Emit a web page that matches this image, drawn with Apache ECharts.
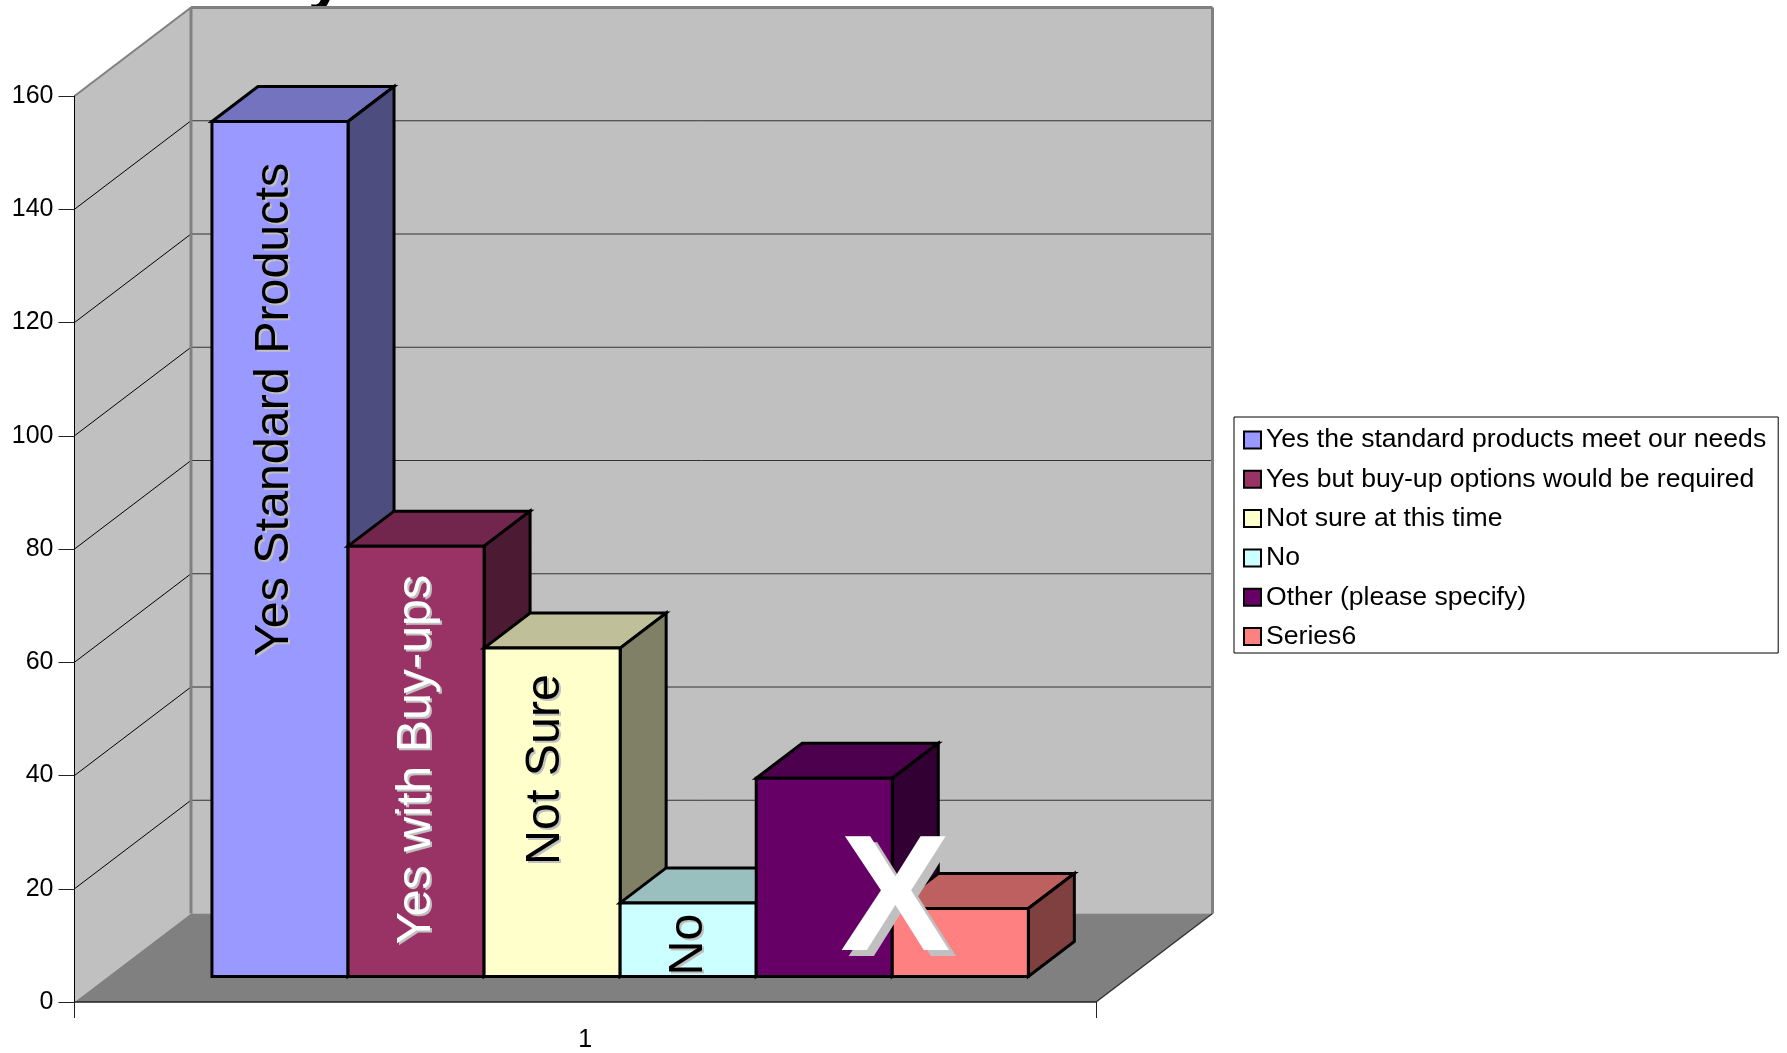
<!DOCTYPE html>
<html>
<head>
<meta charset="utf-8">
<style>html,body{margin:0;padding:0;background:#fff}#c{width:1787px;height:1053px}</style>
<script src="https://cdn.jsdelivr.net/npm/echarts@6/dist/echarts.min.js"></script>
</head>
<body>
<div id="c"></div>
<script>
const categories = ['1'];
const seriesNames = [
  'Yes the standard products meet our needs',
  'Yes but buy-up options would be required',
  'Not sure at this time',
  'No',
  'Other (please specify)',
  'Series6'
];
const seriesValues = [151, 76, 58, 13, 35, 12];
const valueTicks = [0, 20, 40, 60, 80, 100, 120, 140, 160];
const barLabels = ['Yes Standard Products', 'Yes with Buy-ups', 'Not Sure', 'No', 'X', ''];

const frontColors = ['#9999FF', '#993366', '#FFFFCC', '#CCFFFF', '#660066', '#FF8080'];
const topColors   = ['#7373BF', '#73264D', '#BFBF99', '#99BFBF', '#4D004D', '#BF6060'];
const sideColors  = ['#4D4D80', '#4D1A33', '#808066', '#668080', '#330033', '#804040'];
const labelColors = ['#000', '#fff', '#000', '#000', '#fff', '#000'];

// projection of the 3D box
const WALL_DX = 116.5, WALL_DY = 88.5;   // back wall vs front plane
const BASE_DX = 35, BASE_DY = 25.5;      // bars' front face vs front plane
const BAR_DX = 46, BAR_DY = 35;          // depth of each bar
const GAP_FRAC = 0.1003, BAR_FRAC = 0.1332;

// label placement relative to the bar: [offset from bar centre, height above base]
const labelPlace = [[-5, 567], [1, 217], [-6, 207], [0, 32], [71, 72], [0, 0]];

function poly(points, fill, stroke, lineWidth) {
  return { type: 'polygon', shape: { points },
    style: { fill, stroke: stroke || null, lineWidth: lineWidth || 0, lineJoin: 'miter', miterLimit: 4 } };
}
function line(x1, y1, x2, y2, stroke, lineWidth) {
  return { type: 'line', shape: { x1, y1, x2, y2 }, style: { stroke, lineWidth: lineWidth || 1, fill: null } };
}
function frame(api) {
  const c = api.coord([0, 0]);
  const band = api.size([1, 0])[0];
  return { left: c[0] - band / 2, right: c[0] + band / 2, y0: c[1], band };
}

function renderWalls(params, api) {
  const f = frame(api);
  const yTop = api.coord([0, valueTicks[valueTicks.length - 1]])[1];
  const L = f.left, R = f.right, B = f.y0;
  const bL = L + WALL_DX, bR = R + WALL_DX;
  const kids = [
    poly([[L, yTop], [bL, yTop - WALL_DY], [bL, B - WALL_DY], [L, B]], '#C0C0C0'),
    poly([[bL, yTop - WALL_DY], [bR, yTop - WALL_DY], [bR, B - WALL_DY], [bL, B - WALL_DY]], '#C0C0C0'),
    poly([[L, B], [bL, B - WALL_DY], [bR, B - WALL_DY], [R, B]], '#808080')
  ];
  valueTicks.forEach(function (v) {
    if (v === 0 || v === valueTicks[valueTicks.length - 1]) return;
    const y = api.coord([0, v])[1];
    kids.push(line(L, y, bL, y - WALL_DY, '#000', 1));
    kids.push(line(bL, y - WALL_DY, bR, y - WALL_DY, '#333', 1));
  });
  kids.push(line(L, yTop, bL, yTop - WALL_DY, '#808080', 2));
  kids.push(line(bL, yTop - WALL_DY, bR, yTop - WALL_DY, '#808080', 3));
  kids.push(line(bL, yTop - WALL_DY, bL, B - WALL_DY, '#808080', 3));
  kids.push(line(bR, yTop - WALL_DY, bR, B - WALL_DY, '#808080', 3));
  kids.push(line(R, B, bR, B - WALL_DY, '#333', 1.5));
  return { type: 'group', children: kids };
}

function makeBarRenderer(i) {
  return function (params, api) {
    const f = frame(api);
    const w = f.band * BAR_FRAC;
    const x0 = f.left + BASE_DX + f.band * GAP_FRAC + i * w;
    const x1 = x0 + w;
    const yb = f.y0 - BASE_DY;
    const yt = api.coord([0, api.value(1)])[1] - BASE_DY;
    return { type: 'group', children: [
      poly([[x0, yt], [x0 + BAR_DX, yt - BAR_DY], [x1 + BAR_DX, yt - BAR_DY], [x1, yt]], topColors[i], '#000', 3),
      poly([[x1, yt], [x1 + BAR_DX, yt - BAR_DY], [x1 + BAR_DX, yb - BAR_DY], [x1, yb]], sideColors[i], '#000', 3),
      poly([[x0, yt], [x1, yt], [x1, yb], [x0, yb]], frontColors[i], '#000', 3)
    ] };
  };
}

function renderLabel(params, api) {
  const i = params.dataIndex;
  const text = barLabels[i];
  if (!text) return null;
  const f = frame(api);
  const w = f.band * BAR_FRAC;
  const cx = f.left + BASE_DX + f.band * GAP_FRAC + (i + 0.5) * w + labelPlace[i][0];
  const cy = f.y0 - BASE_DY - labelPlace[i][1];
  const big = text === 'X';
  const font = (big ? 'bold 165px' : '48.4px') + ' "Liberation Sans"';
  const mk = function (x, y, fill) {
    return { type: 'text', x, y, rotation: big ? 0 : Math.PI / 2,
      style: { text, fill, align: 'center', verticalAlign: 'middle', font } };
  };
  return { type: 'group', children: [
    mk(cx + (big ? 7 : 2), cy + (big ? 6 : 2), '#C0C0C0'),
    mk(cx, cy, labelColors[i])
  ] };
}

const barSeries = seriesNames.map(function (name, i) {
  return {
    type: 'custom', name, z: 3, silent: true, clip: false,
    coordinateSystem: 'cartesian2d',
    encode: { x: 0, y: 1 },
    itemStyle: { color: frontColors[i], borderColor: '#000' },
    renderItem: makeBarRenderer(i),
    data: [[0, seriesValues[i]]]
  };
});

const chart = echarts.init(document.getElementById('c'), null, { renderer: 'canvas' });
chart.setOption({
  animation: false,
  backgroundColor: '#fff',
  grid: { left: 74.5, top: 96, width: 1021.5, height: 910, containLabel: false },
  xAxis: {
    type: 'category', data: categories, z: 2,
    axisLine: { show: true, lineStyle: { color: '#222', width: 1.5 } },
    axisTick: { show: true, length: 16, lineStyle: { color: '#222', width: 1 } },
    axisLabel: { color: '#000', fontFamily: 'Liberation Sans', fontSize: 25, margin: 26 },
    splitLine: { show: false }
  },
  yAxis: {
    type: 'value', min: 0, max: 160, interval: 20, z: 2,
    axisLine: { show: true, lineStyle: { color: '#000', width: 1 } },
    axisTick: { show: true, length: 16, lineStyle: { color: '#222', width: 1 } },
    axisLabel: { color: '#000', fontFamily: 'Liberation Sans', fontSize: 25, margin: 21, padding: [3, 0, 0, 0] },
    splitLine: { show: false }
  },
  legend: {
    orient: 'vertical', left: 1234, top: 417,
    padding: [9.5, 12, 3, 9], itemWidth: 17, itemHeight: 17, itemGap: 12.3,
    borderColor: '#000', borderWidth: 1, backgroundColor: '#fff',
    selectedMode: false,
    textStyle: { color: '#000', fontFamily: 'Liberation Sans', fontSize: 26.6, lineHeight: 24 },
    data: seriesNames.map(function (name, i) {
      return { name, icon: 'rect', itemStyle: { color: frontColors[i], borderColor: '#000', borderWidth: 2 } };
    })
  },
  graphic: [{
    type: 'text', left: 308, top: -52, silent: true,
    style: { text: 'y', fill: '#000', font: 'bold 64px "Liberation Sans"' }
  }],
  series: [
    { type: 'custom', name: 'walls', z: 1, silent: true, clip: false, coordinateSystem: 'cartesian2d',
      encode: { x: 0, y: 1 }, renderItem: renderWalls, data: [[0, 0]] }
  ].concat(barSeries).concat([
    { type: 'custom', name: 'labels', z: 20, silent: true, clip: false, coordinateSystem: 'cartesian2d',
      encode: { x: 0, y: 1 }, renderItem: renderLabel, data: seriesValues.map(function (v) { return [0, v]; }) }
  ])
});
</script>
</body>
</html>
